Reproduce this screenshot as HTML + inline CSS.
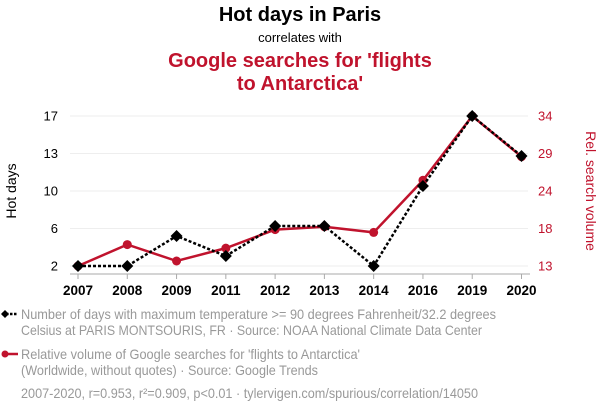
<!DOCTYPE html>
<html><head><meta charset="utf-8"><style>
body{margin:0;background:#fff;}
svg{display:block;font-family:"Liberation Sans",Arial,sans-serif;}
</style></head><body>
<svg id="chart" width="600" height="414" viewBox="0 0 600 414">
<text x="300" y="21" text-anchor="middle" font-size="20" font-weight="bold" fill="#000">Hot days in Paris</text>
<text x="300" y="42" text-anchor="middle" font-size="13" fill="#000">correlates with</text>
<text x="300" y="67" text-anchor="middle" font-size="20" font-weight="bold" fill="#c0132d">Google searches for 'flights</text>
<text x="300" y="90" text-anchor="middle" font-size="20" font-weight="bold" fill="#c0132d">to Antarctica'</text>
<g id="grid"></g>
<g id="axes"></g>
<g id="series"></g>
<text transform="translate(16,191) rotate(-90)" text-anchor="middle" font-size="14" fill="#000">Hot days</text>
<text transform="translate(586,191) rotate(90)" text-anchor="middle" font-size="14" fill="#c0132d">Rel. search volume</text>
<g>
<line x1="2" y1="314" x2="18" y2="314" stroke="#000" stroke-width="2.5" stroke-dasharray="2.5,1.5"/>
<path d="M1,314 L5,310 L9,314 L5,318Z" fill="#000"/>
<text x="21" y="319" font-size="14" fill="#999" textLength="475" lengthAdjust="spacingAndGlyphs">Number of days with maximum temperature &gt;= 90 degrees Fahrenheit/32.2 degrees</text>
<text x="21" y="335" font-size="14" fill="#999" textLength="461" lengthAdjust="spacingAndGlyphs">Celsius at PARIS MONTSOURIS, FR · Source: NOAA National Climate Data Center</text>
</g>
<g>
<line x1="4" y1="354" x2="18" y2="354" stroke="#c0132d" stroke-width="2.5"/>
<circle cx="5" cy="354" r="3.5" fill="#c0132d"/>
<text x="21" y="359" font-size="14" fill="#999" textLength="339" lengthAdjust="spacingAndGlyphs">Relative volume of Google searches for 'flights to Antarctica'</text>
<text x="21" y="375" font-size="14" fill="#999" textLength="297" lengthAdjust="spacingAndGlyphs">(Worldwide, without quotes) · Source: Google Trends</text>
</g>
<text x="21" y="398" font-size="14" fill="#999" textLength="457" lengthAdjust="spacingAndGlyphs">2007-2020, r=0.953, r²=0.909, p&lt;0.01 · tylervigen.com/spurious/correlation/14050</text>
</svg>
<script>
const years = ["2007","2008","2009","2011","2012","2013","2014","2016","2019","2020"];
const hotDays = [2,2,5,3,6,6,2,10,17,13];
const searches = [13,16,13.7,15.5,18.1,18.5,17.7,25,34,28.3];
const leftTickLabels = ["2","6","10","13","17"];
const rightTickLabels = ["13","18","24","29","34"];
const leftMin=2,leftMax=17,rightMin=13,rightMax=34;
const NS="http://www.w3.org/2000/svg";
function xPos(i){return 78+i*(521.5-78)/(years.length-1);}
function yL(v){return 266-(v-leftMin)/(leftMax-leftMin)*150;}
function yR(v){return 266-(v-rightMin)/(rightMax-rightMin)*150;}
function mk(tag,attrs,parent){const e=document.createElementNS(NS,tag);for(const k in attrs)e.setAttribute(k,attrs[k]);parent.appendChild(e);return e;}
const grid=document.getElementById('grid'),axes=document.getElementById('axes'),series=document.getElementById('series');
leftTickLabels.forEach((t,i)=>{
  const y=266-i*150/(leftTickLabels.length-1);
  const g=mk('line',{x1:70,x2:528,y1:y,y2:y,stroke:'#eee','stroke-width':1},grid);
  
  
  const tl=mk('text',{x:58,y:y+4.5,'text-anchor':'end','font-size':13,fill:'#000'},axes);
  tl.textContent=t;
  
  
});
rightTickLabels.forEach((t,i)=>{
  const y=266-i*150/(rightTickLabels.length-1);
  const tl=mk('text',{x:538,y:y+4.5,'text-anchor':'start','font-size':13,fill:'#c0132d'},axes);
  tl.textContent=t;
  
  
});
const ax=mk('line',{x1:70,x2:530,y1:274,y2:274,stroke:'#aaa','stroke-width':1},axes);


years.forEach((yr,i)=>{
  const x=xPos(i);
  const tk=mk('line',{x1:x,x2:x,y1:274,y2:279,stroke:'#aaa'},axes);
  
  
  const tl=mk('text',{x:x,y:295,'text-anchor':'middle','font-size':13.5,'font-weight':'bold',fill:'#000'},axes);
  tl.textContent=yr;
  
  
});
const rp=mk('polyline',{points:searches.map((v,i)=>xPos(i)+','+yR(v)).join(' '),fill:'none',stroke:'#c0132d','stroke-width':2.5},series);


searches.forEach((v,i)=>{
  const c=mk('circle',{cx:xPos(i),cy:yR(v),r:4.5,fill:'#c0132d'},series);
  
  
});
const bp=mk('polyline',{points:hotDays.map((v,i)=>xPos(i)+','+yL(v)).join(' '),fill:'none',stroke:'#000','stroke-width':2.5,'stroke-dasharray':'3,2'},series);


hotDays.forEach((v,i)=>{
  const x=xPos(i),y=yL(v);
  const d=mk('path',{d:`M${x-6},${y} L${x},${y-6} L${x+6},${y} L${x},${y+6}Z`,fill:'#000'},series);
  
  
});
</script>
</body></html>
